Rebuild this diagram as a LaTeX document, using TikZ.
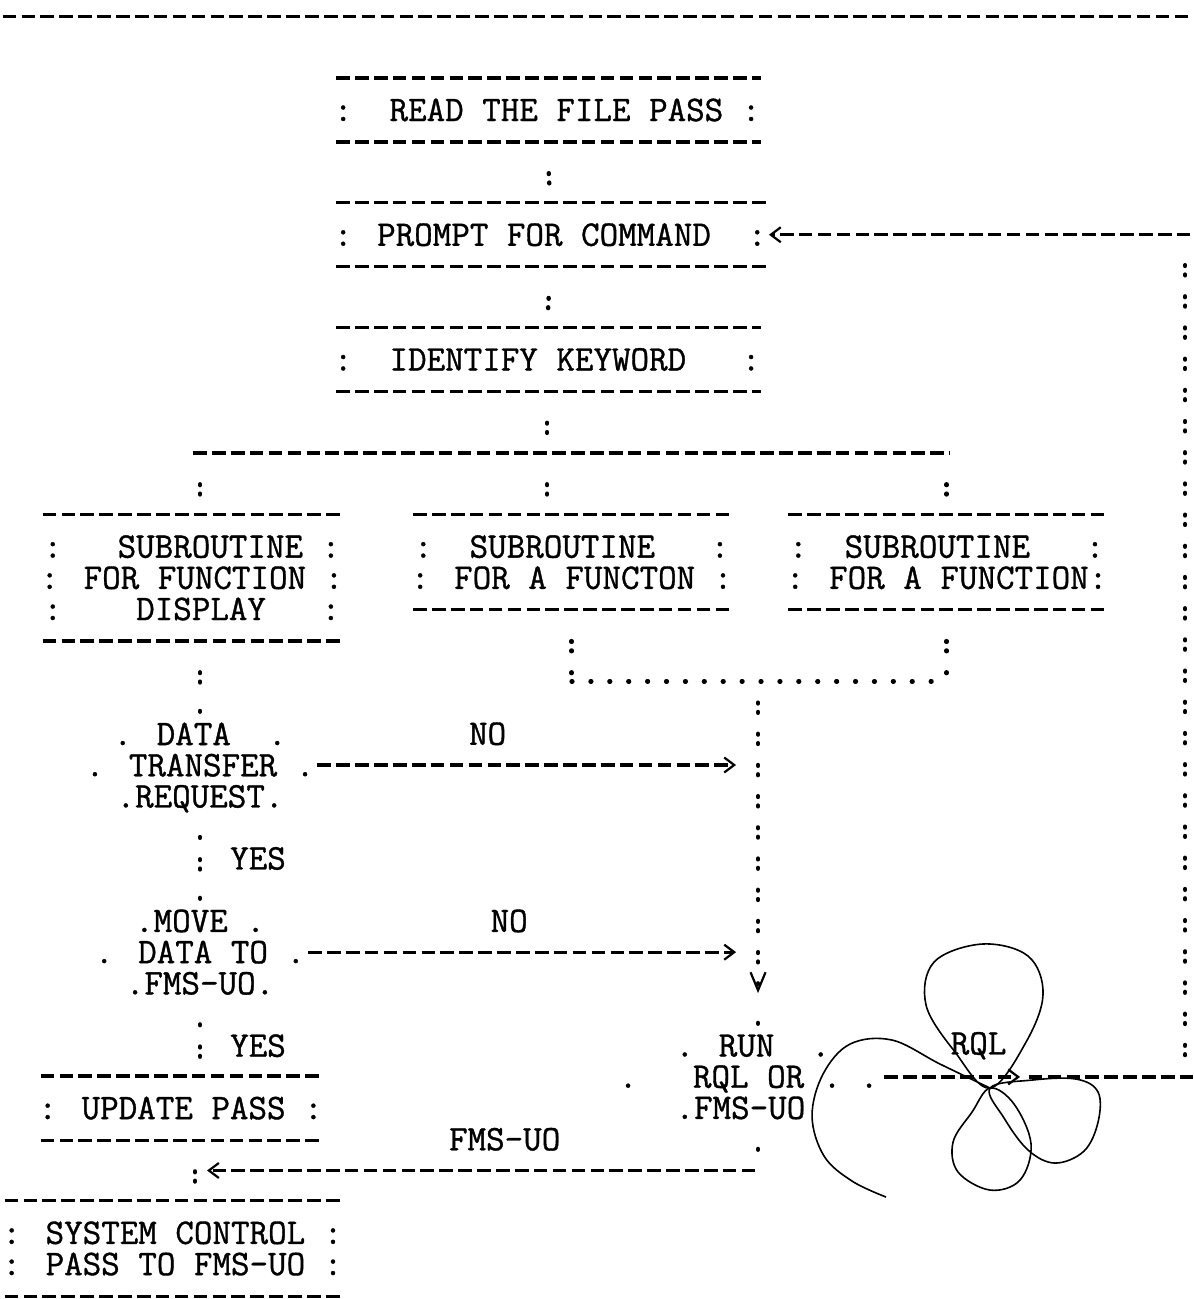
\documentclass[tikz,border=0pt]{standalone}
\usepackage{fontspec}
\usetikzlibrary{arrows.meta,positioning}
\newfontfamily\tw{Latin Modern Mono}[FakeBold=1]
\newcommand\twfont{\tw\fontsize{18}{15.595}\selectfont}
\newlength\cellw
\setlength\cellw{9.45pt}
\newcommand\pad[1]{\hbox to #1\cellw{}}
\tikzset{
  every node/.append style={font=\twfont, inner xsep=0pt},
  rule/.style={line width=1.6pt, dash pattern=on 6.8pt off 2.65pt, dash phase=8.125pt},
  colon/.style={line width=2.2pt, line cap=round,
                dash pattern=on 0.4pt off 4.28pt on 0.4pt off 10.515pt,
                shorten <=15.6pt, shorten >=9.6pt},
  dotrow/.style={line width=2.2pt, line cap=round, dash pattern=on 0.4pt off 9.05pt},
  vdot/.style={line width=2.4pt, line cap=round, solid},
  tbox/.style={align=center, inner ysep=10.1pt,
    append after command={
      (\tikzlastnode.north west) edge[rule] (\tikzlastnode.north east)
      (\tikzlastnode.south west) edge[rule] (\tikzlastnode.south east)}},
  dec/.style={align=center, inner ysep=10.1pt,
    append after command={
      ([yshift=-4.6pt]\tikzlastnode.north) edge[vdot] ([yshift=-4.8pt]\tikzlastnode.north)
      ([yshift=-4.6pt]\tikzlastnode.south) edge[vdot] ([yshift=-4.8pt]\tikzlastnode.south)}},
  lbl/.style={inner sep=0pt},
  harrow/.style={rule, -{Straight Barb[length=5pt, width=7.5pt, line width=1.1pt]}},
  varrow/.style={colon, -{Straight Barb[length=9pt, width=7.5pt, line width=1.1pt]}},
}
\begin{document}
\begin{tikzpicture}[x=0.5pt, y=-15.595pt]
\fill[white] (0,-0.526) rectangle (1193,41.12);
\useasboundingbox (0,-0.526) rectangle (1193,41.12);
\draw[rule] (0,0) -- (1193,0);

% main column
\node[tbox, anchor=west] (readb) at (333.5,3) {:~~READ THE FILE PASS :};
\node[tbox, anchor=west] (prompt) at (333.5,7) {: PROMPT FOR COMMAND~~:};
\node[tbox, anchor=west] (ident) at (333.5,11) {:~~IDENTIFY KEYWORD~~~:};
\coordinate (brl) at (190.5,14);
\coordinate (brr) at (949.5,14);

% the three subroutines
\node[tbox, anchor=west] (sub1) at (40,18) {:~~~SUBROUTINE~:\\: FOR FUNCTION :\\:~~~~DISPLAY~~~:};
\node[tbox, anchor=west] (sub2) at (410.5,17.5) {:~~SUBROUTINE~~~:\\: FOR A FUNCTON :};
\node[tbox, anchor=west] (sub3) at (785.5,17.5) {:~~SUBROUTINE~~~:\\: FOR A FUNCTION:};
\coordinate (mrg) at (758,21.32);

% left column
\node[dec, text depth=0pt] (dtr) at (200,24) {. DATA~~.\\. TRANSFER .\\.REQUEST.};
\node[dec] (mv) at (200,30) {.MOVE .\\. DATA TO .\\.FMS-UO.};
\node[tbox, anchor=west] (upd) at (38,35) {: UPDATE PASS :};
\coordinate (fmsj) at (195,37);
\node[tbox, anchor=west] (sysc) at (2,39.5) {: SYSTEM CONTROL :\\: PASS TO FMS-UO :};

% run decision and its loop back
\node[dec, align=left] (run) at (758,34) {\pad{3}. RUN~~.\\.~~~RQL OR .~.\pad{1}\\\pad{3}.FMS-UO};
\coordinate (rqlmid) at (1020,34);
\coordinate (loopbot) at (1193,34);
\coordinate (looptop) at (1193,7);

\draw[colon] (readb.south) -- (prompt.north);
\draw[colon] (prompt.south) -- (ident.north);
\draw[colon] (ident.south) -- (ident.south |- brl);
\draw[rule] (brl) -- (brr);
\draw[colon] (dtr.north |- brl) -- (dtr.north |- sub1.north);
\draw[colon] (ident.south |- brl) -- (ident.south |- sub2.north);
\draw[colon] (sub3.north |- brl) -- (sub3.north);

\draw[colon] (dtr.north |- sub1.south) -- (dtr.north);
\draw[colon] (dtr.south) -- (mv.north) node[lbl, right=14pt, pos=0.5] {YES};
\draw[colon] (mv.south) -- (upd.north -| mv.south) node[lbl, right=14pt, pos=0.5] {YES};
\draw[colon] (upd.south -| fmsj) -- (sysc.north -| fmsj);

\draw[colon, shorten >=0pt] (sub2.south) -- (sub2.south |- mrg);
\draw[colon, shorten >=0pt] (sub3.south) -- (sub3.south |- mrg);
\draw[dotrow] (sub2.south |- mrg) -- (sub3.south |- mrg);
\draw[varrow, shorten <=10.6pt, shorten >=10.4pt] (mrg) -- (run.north);

\draw[harrow, shorten >=11pt] (dtr.east) -- (dtr.east -| mrg)
  node[lbl, pos=0.39, yshift=15.595pt] {NO};
\draw[harrow, shorten >=11pt] (mv.east) -- (mv.east -| mrg)
  node[lbl, pos=0.45, yshift=15.595pt] {NO};

\draw[harrow] ([xshift=-8pt]run.east) -- (rqlmid) node[lbl, pos=0.7, yshift=15.595pt] {RQL};
\draw[rule, shorten <=3pt] (rqlmid) -- (loopbot);
\draw[colon, shorten <=10.9pt, shorten >=15.1pt] ([xshift=-4pt]loopbot) -- ([xshift=-4pt]looptop);
\draw[harrow, shorten >=1pt] (looptop) -- (prompt.east);
\draw[harrow, shorten >=6pt] (run.south |- fmsj) -- (fmsj)
  node[lbl, pos=0.45, yshift=15.595pt] {FMS-UO};

% pen scribble over the RQL exit
\begin{scope}[y=-0.5pt, yshift=8.2pt, line width=0.8pt]
  \draw plot[smooth cycle, tension=0.6] coordinates {(990,1088) (955,1052) (926,1005) (934,962) (982,944) (1028,956) (1043,994) (1026,1042)};
  \draw plot[smooth, tension=0.6] coordinates {(990,1088) (940,1064) (892,1040) (850,1044) (823,1074) (812,1116) (824,1156) (852,1181) (886,1197)};
  \draw plot[smooth cycle, tension=0.6] coordinates {(990,1088) (1032,1080) (1076,1079) (1098,1092) (1098,1122) (1084,1151) (1055,1163) (1028,1150) (1004,1118)};
  \draw plot[smooth cycle, tension=0.6] coordinates {(990,1088) (972,1112) (953,1142) (958,1172) (990,1190) (1020,1180) (1031,1144) (1014,1104)};
\end{scope}
\end{tikzpicture}
\end{document}
